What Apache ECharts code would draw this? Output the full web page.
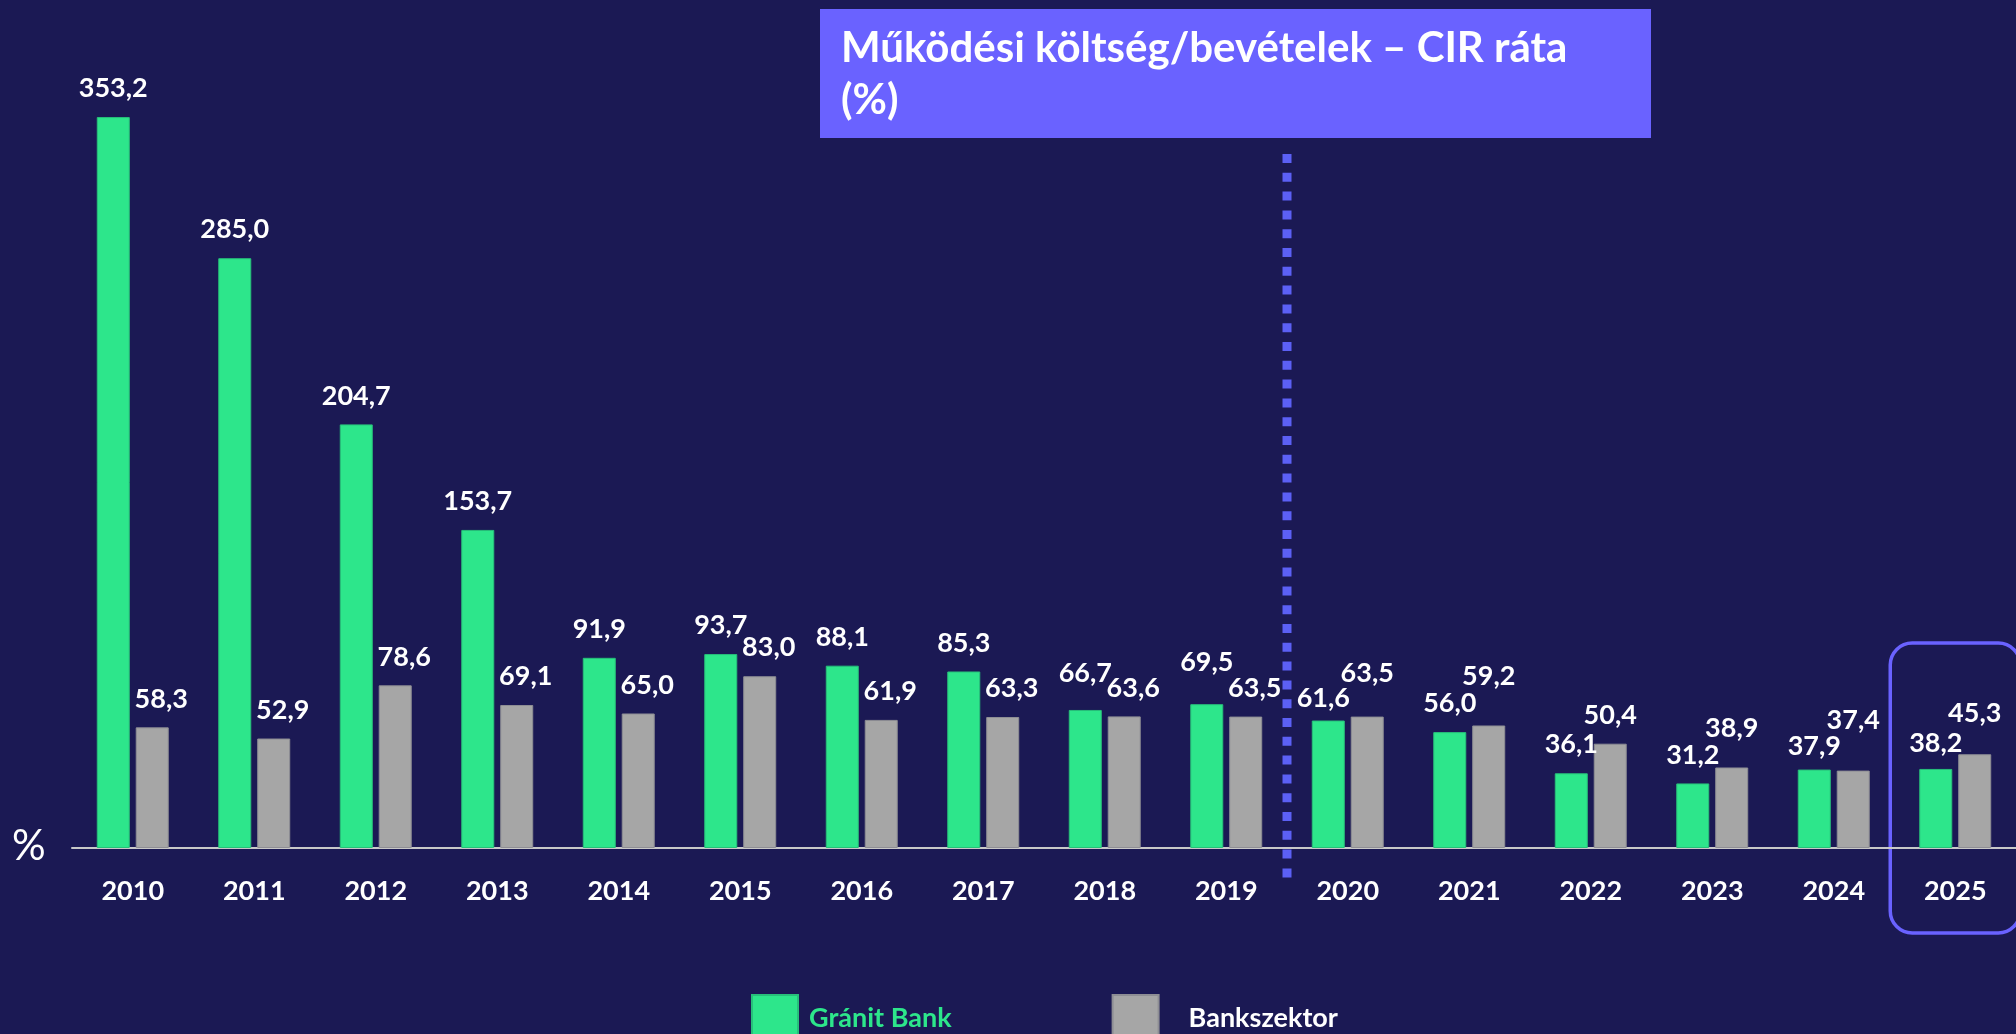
<!DOCTYPE html>
<html>
<head>
    <meta charset="utf-8">
    <title>CIR ráta</title>
    <script src="https://cdn.jsdelivr.net/npm/echarts@6/dist/echarts.min.js"></script>
    <style>
        html, body { margin: 0; padding: 0; background: #1b1954; }
        #main { width: 2016px; height: 1034px; }
    </style>
</head>
<body>
<div id="main"></div>
<script type="text/javascript">
    // adatok
    var years = ['2010', '2011', '2012', '2013', '2014', '2015', '2016', '2017',
        '2018', '2019', '2020', '2021', '2022', '2023', '2024', '2025'];
    var granitBank = [353.2, 285.0, 204.7, 153.7, 91.9, 93.7, 88.1, 85.3,
        66.7, 69.5, 61.6, 56.0, 36.1, 31.2, 37.9, 38.2];
    var bankszektor = [58.3, 52.9, 78.6, 69.1, 65.0, 83.0, 61.9, 63.3,
        63.6, 63.5, 63.5, 59.2, 50.4, 38.9, 37.4, 45.3];

    // címke-igazítás (px), ahol az eredeti kézzel el van tolva
    var greenLift = {'2018': 8, '2019': 13, '2020': -6, '2024': -5, '2025': -3};
    var grayLift = {'2020': 15, '2021': 21, '2023': 11, '2024': 22, '2025': 12};

    var FONT = 'Lato';
    var GREEN = '#2de68b';
    var GRAY = '#a6a6a6';
    var VIOLET = '#6a62ff';

    function fmt(v) {
        return v.toFixed(1).replace('.', ',');
    }

    function items(values, lift, dxFn) {
        return values.map(function (v, i) {
            var y = years[i];
            return {
                value: v,
                label: {
                    distance: 15 + (lift[y] || 0),
                    offset: [dxFn(i), 0]
                }
            };
        });
    }

    var labelStyle = {
        show: true,
        position: 'top',
        color: '#ffffff',
        fontFamily: FONT,
        fontWeight: 'bold',
        fontSize: 27,
        formatter: function (p) { return fmt(p.value); }
    };

    var chart = echarts.init(document.getElementById('main'));
    chart.setOption({
        backgroundColor: '#1b1954',
        animation: false,
        grid: {left: 72, right: 0, top: 103, bottom: 186},
        legend: {
            left: 746,
            top: 989,
            itemWidth: 46,
            itemHeight: 46,
            itemGap: 160,
            icon: 'rect',
            textStyle: {fontFamily: FONT, fontWeight: 'bold', fontSize: 27, color: '#ffffff'},
            data: [
                {name: 'Gránit Bank', textStyle: {color: GREEN, padding: [0, 0, 0, 6]}},
                {name: 'Bankszektor', textStyle: {color: '#ffffff', padding: [0, 0, 0, 25]}}
            ]
        },
        xAxis: {
            type: 'category',
            data: years,
            axisTick: {show: false},
            axisLine: {lineStyle: {color: '#c8c8c8', width: 2}},
            axisLabel: {color: '#ffffff', fontFamily: FONT, fontWeight: 'bold', fontSize: 27, margin: 30}
        },
        yAxis: {
            type: 'value',
            min: 0,
            max: 360,
            show: false,
            splitLine: {show: false}
        },
        series: [
            {
                name: 'Gránit Bank',
                type: 'bar',
                barWidth: 33,
                barGap: '18%',
                itemStyle: {color: GREEN, borderColor: '#27c07a', borderWidth: 1},
                label: labelStyle,
                data: items(granitBank, greenLift, function (i) { return years[i] === '2020' ? -5 : 0; })
            },
            {
                name: 'Bankszektor',
                type: 'bar',
                barWidth: 33,
                itemStyle: {color: GRAY, borderColor: '#8e8e94', borderWidth: 1},
                label: labelStyle,
                data: items(bankszektor, grayLift, function (i) { return i < 10 ? 9 : 0; })
            }
        ]
    });

    // díszítések a tengely koordinátáiból
    var x19 = chart.convertToPixel({xAxisIndex: 0}, '2019');
    var x20 = chart.convertToPixel({xAxisIndex: 0}, '2020');
    var x25 = chart.convertToPixel({xAxisIndex: 0}, '2025');
    var band = x20 - x19;
    var split = (x19 + x20) / 2;

    chart.setOption({
        graphic: [
            {
                type: 'rect',
                shape: {x: 820, y: 9, width: 831, height: 129},
                style: {fill: VIOLET}
            },
            {
                type: 'text',
                x: 841,
                y: 22,
                style: {
                    text: 'Működési költség/bevételek – CIR ráta\n(%)',
                    fill: '#ffffff',
                    font: 'bold 42px Lato',
                    lineHeight: 52
                }
            },
            {
                type: 'text',
                x: 12,
                y: 846,
                style: {
                    text: '%',
                    fill: '#ffffff',
                    font: '42px Lato',
                    verticalAlign: 'middle'
                }
            },
            {
                type: 'line',
                shape: {x1: split, y1: 154, x2: split, y2: 882},
                style: {stroke: '#5c60f5', lineWidth: 9, lineDash: [9, 9.8]}
            },
            {
                type: 'rect',
                shape: {x: x25 - band * 0.535, y: 643, width: band * 1.07, height: 290, r: 22},
                style: {fill: 'none', stroke: VIOLET, lineWidth: 3.5}
            }
        ]
    });
</script>
</body>
</html>
